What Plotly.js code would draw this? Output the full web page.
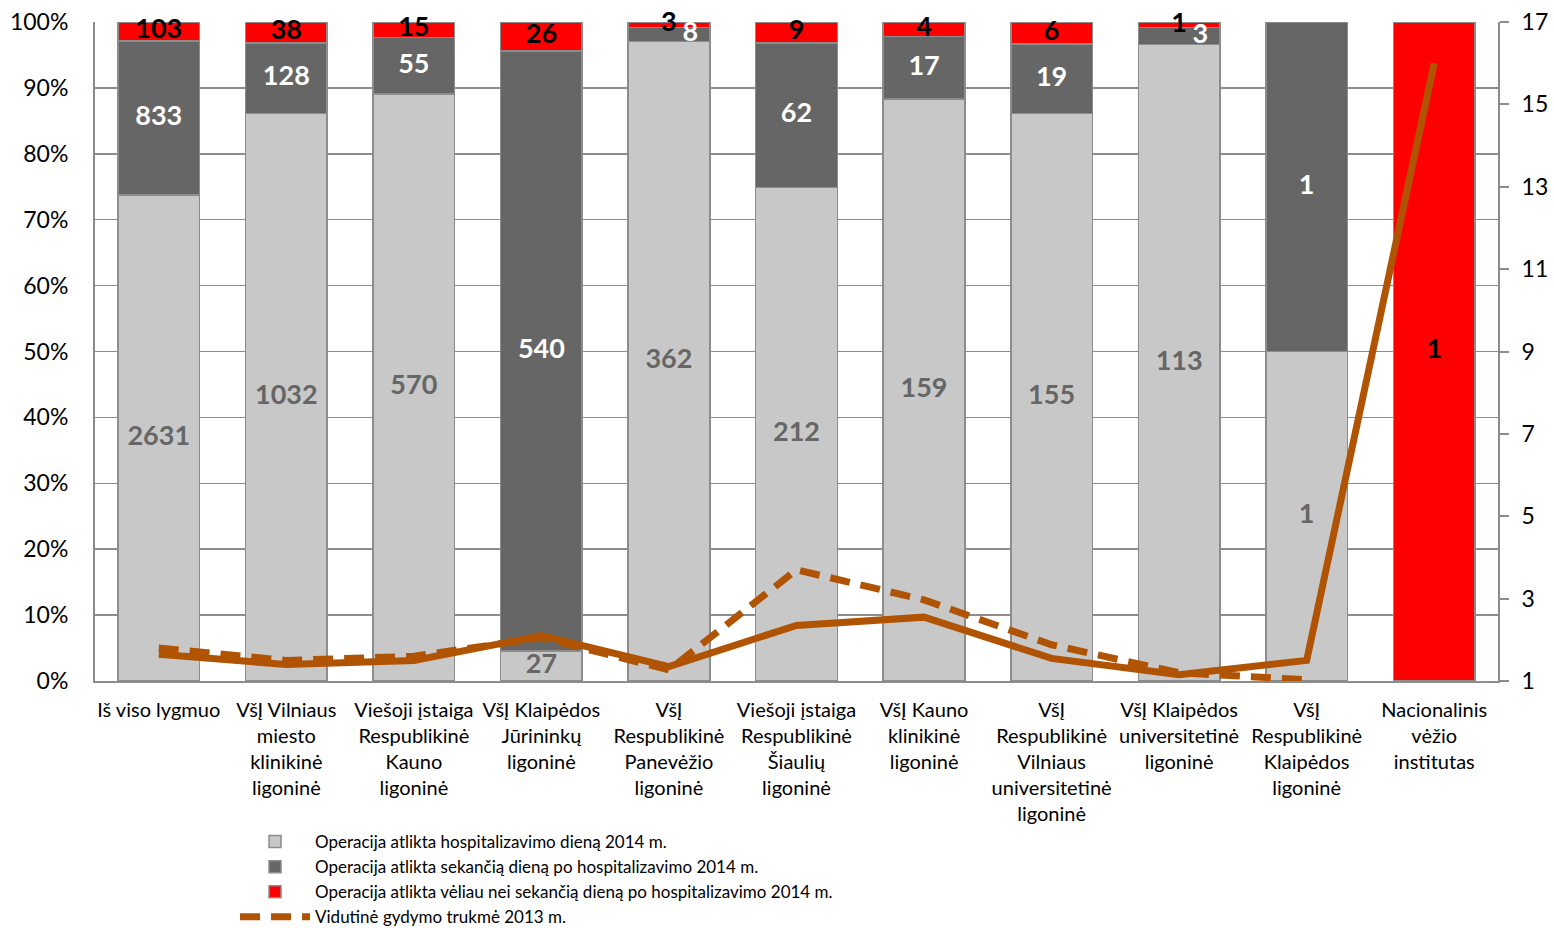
<!DOCTYPE html>
<html>
<head>
<meta charset="utf-8">
<script src="https://cdn.plot.ly/plotly-3.0.1.min.js"></script>
<style>
  html, body { margin: 0; padding: 0; background: #fff; }
  #plot { width: 1554px; height: 928px; }
</style>
</head>
<body>
<div id="plot"></div>
<script>
// hospitals (category labels, wrapped like the original)
let hospitals = [
    "Iš viso lygmuo",
    "VšĮ Vilniaus<br>miesto<br>klinikinė<br>ligoninė",
    "Viešoji įstaiga<br>Respublikinė<br>Kauno<br>ligoninė",
    "VšĮ Klaipėdos<br>Jūrininkų<br>ligoninė",
    "VšĮ<br>Respublikinė<br>Panevėžio<br>ligoninė",
    "Viešoji įstaiga<br>Respublikinė<br>Šiaulių<br>ligoninė",
    "VšĮ Kauno<br>klinikinė<br>ligoninė",
    "VšĮ<br>Respublikinė<br>Vilniaus<br>universitetinė<br>ligoninė",
    "VšĮ Klaipėdos<br>universitetinė<br>ligoninė",
    "VšĮ<br>Respublikinė<br>Klaipėdos<br>ligoninė",
    "Nacionalinis<br>vėžio<br>institutas"
];

// operation counts 2014
let sameDay  = [2631, 1032, 570, 27, 362, 212, 159, 155, 113, 1, 0];
let nextDay  = [833, 128, 55, 540, 8, 62, 17, 19, 3, 1, 0];
let laterDay = [103, 38, 15, 26, 3, 9, 4, 6, 1, 0, 1];

// average length of stay (right axis)
let stay2014 = [1.65, 1.4, 1.5, 2.1, 1.35, 2.35, 2.55, 1.55, 1.15, 1.5, 16.0];
let stay2013 = [1.8, 1.5, 1.6, 2.05, 1.27, 3.7, 2.97, 1.88, 1.2, 1.03, null];

let font = "Lato, 'Open Sans', sans-serif";
let lineColor = "#b05404";
let edge = "#8c8c8c";

let barNames = [
    "Operacija atlikta hospitalizavimo dieną 2014 m.",
    "Operacija atlikta sekančią dieną po hospitalizavimo 2014 m.",
    "Operacija atlikta vėliau nei sekančią dieną po hospitalizavimo 2014 m."
];
let barColors = ["#c8c8c8", "#666666", "#ff0000"];
let labelColors = ["#666666", "#ffffff", "#000000"];

let series = [sameDay, nextDay, laterDay];
let data = [];

// stacked 100% bars
for (var s = 0; s < series.length; s++) {
    data.push({
        x: hospitals,
        y: series[s],
        name: barNames[s],
        type: "bar",
        marker: { color: barColors[s], line: { color: edge, width: 1.5 } },
        textposition: "none",
        hoverinfo: "y+name"
    });
}

// data labels: one text trace per series, placed at the middle of each segment
for (var s = 0; s < series.length; s++) {
    let mids = [], texts = [], where = [];
    for (var i = 0; i < hospitals.length; i++) {
        let total = sameDay[i] + nextDay[i] + laterDay[i];
        let below = 0;
        for (var k = 0; k < s; k++) below += series[k][i];
        let v = series[s][i];
        mids.push((below + v / 2) / total * 100);
        // tiny dark segments get their label pushed aside, as in the original
        let tiny = (s == 1 && v / total < 0.03);
        texts.push(v == 0 ? "" : (tiny ? "\u2002" + v : String(v)));
        where.push(tiny ? "middle right" : "middle center");
    }
    data.push({
        x: hospitals,
        y: mids,
        type: "scatter",
        mode: "text",
        text: texts,
        textposition: where,
        textfont: { family: font, size: 27, color: labelColors[s], weight: 700 },
        cliponaxis: false,
        showlegend: false,
        hoverinfo: "skip"
    });
}

data.push({
    x: hospitals,
    y: stay2014,
    name: "Vidutinė gydymo trukmė 2014 m.",
    type: "scatter",
    mode: "lines",
    yaxis: "y2",
    line: { color: lineColor, width: 7 },
    showlegend: false
});

data.push({
    x: hospitals,
    y: stay2013,
    name: "Vidutinė gydymo trukmė 2013 m.",
    type: "scatter",
    mode: "lines",
    yaxis: "y2",
    line: { color: lineColor, width: 7, dash: "20px,11px" },
    connectgaps: false
});

let layout = {
    width: 1554,
    height: 928,
    margin: { l: 95, r: 56, t: 22, b: 247, autoexpand: false },
    paper_bgcolor: "#ffffff",
    plot_bgcolor: "#ffffff",
    barmode: "stack",
    barnorm: "percent",
    bargap: 0.36,
    font: { family: font, size: 19, color: "#000000" },
    xaxis: {
        type: "category",
        range: [-0.5, hospitals.length - 0.5],
        automargin: false,
        showline: true,
        linecolor: edge,
        linewidth: 2,
        ticks: "",
        ticklabelstandoff: 10,
        tickfont: { family: font, size: 20, color: "#000000" },
        showgrid: false
    },
    yaxis: {
        range: [0, 100],
        dtick: 10,
        ticksuffix: "%",
        automargin: false,
        showgrid: true,
        gridcolor: edge,
        gridwidth: 1.5,
        showline: true,
        linecolor: edge,
        linewidth: 2,
        zeroline: false,
        ticks: "",
        ticklabelstandoff: 20,
        tickfont: { family: font, size: 23, color: "#000000" }
    },
    yaxis2: {
        overlaying: "y",
        side: "right",
        range: [1, 17],
        tickvals: [1, 3, 5, 7, 9, 11, 13, 15, 17],
        automargin: false,
        showgrid: false,
        zeroline: false,
        showline: true,
        linecolor: edge,
        linewidth: 2,
        ticks: "outside",
        ticklen: 9,
        tickwidth: 2,
        tickcolor: edge,
        ticklabelstandoff: 8,
        tickfont: { family: font, size: 23, color: "#000000" }
    },
    legend: {
        orientation: "v",
        x: 0.0998,
        xanchor: "left",
        y: -0.217,
        yanchor: "top",
        traceorder: "normal",
        itemwidth: 70,
        tracegroupgap: 0,
        font: { family: font, size: 17, color: "#000000" },
        bgcolor: "rgba(0,0,0,0)"
    },
    showlegend: true
};

Plotly.newPlot("plot", data, layout, { displayModeBar: false, staticPlot: true });
</script>
</body>
</html>
